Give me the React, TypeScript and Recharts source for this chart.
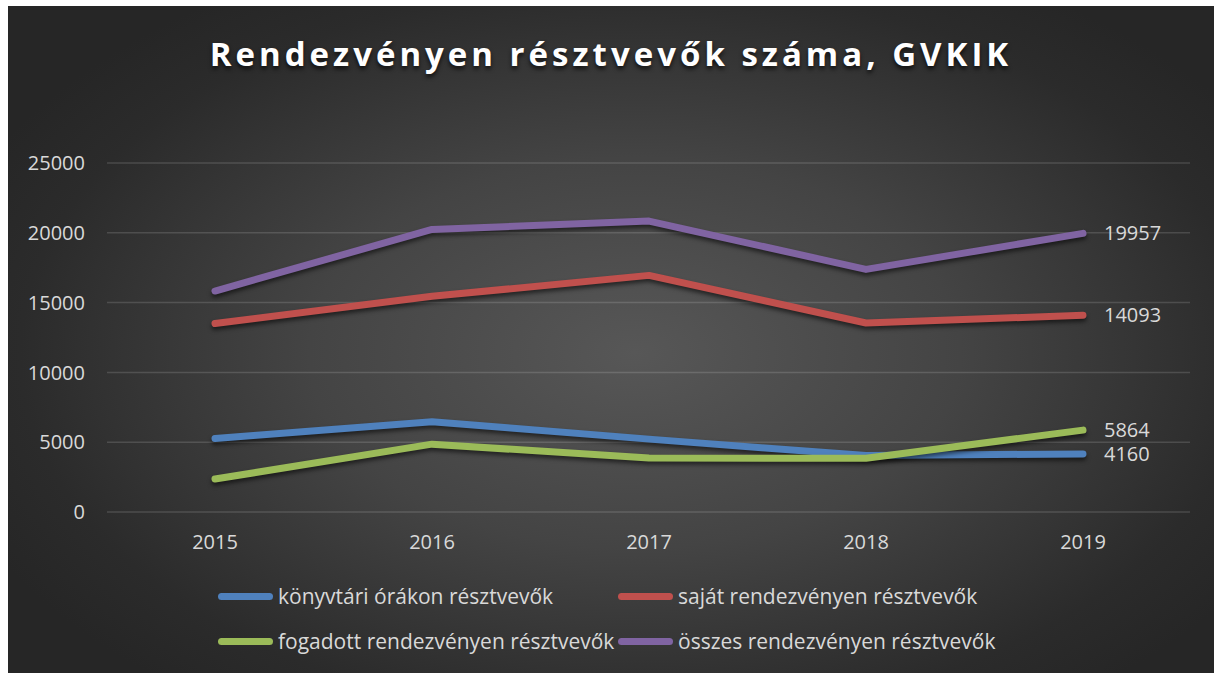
import React from 'react';
import { LineChart, Line, XAxis, YAxis, CartesianGrid } from 'recharts';

// Rendezvényen résztvevők száma, GVKIK
const years = ['2015', '2016', '2017', '2018', '2019'];
const konyvtariOrak = [5270, 6460, 5220, 4040, 4160];
const sajatRendezveny = [13500, 15450, 16950, 13540, 14093];
const fogadottRendezveny = [2360, 4860, 3860, 3850, 5864];
const osszesRendezveny = [15830, 20240, 20840, 17380, 19957];
const yTicks = [0, 5000, 10000, 15000, 20000, 25000];

const seriesNames = [
  'könyvtári órákon résztvevők',
  'saját rendezvényen résztvevők',
  'fogadott rendezvényen résztvevők',
  'összes rendezvényen résztvevők',
];
const seriesKeys = ['konyvtari', 'sajat', 'fogadott', 'osszes'];
const seriesColors = ['#4F81BD', '#C0504D', '#9BBB59', '#8064A2'];

const chartData = years.map((year, i) => ({
  year,
  konyvtari: konyvtariOrak[i],
  sajat: sajatRendezveny[i],
  fogadott: fogadottRendezveny[i],
  osszes: osszesRendezveny[i],
}));

const FONT = '"Open Sans", "DejaVu Sans", sans-serif';
const TEXT = '#d9d9d9';

function endLabel(props: any) {
  const { x, y, index, value } = props;
  if (index !== years.length - 1) return null;
  return (
    <text x={x + 21} y={y} dy={7} fill={TEXT} fontSize={20} fontFamily={FONT}>
      {value}
    </text>
  );
}

function LegendItem({ color, label, left, top }: { color: string; label: string; left: number; top: number }) {
  return (
    <div style={{ position: 'absolute', left, top, display: 'flex', alignItems: 'center', whiteSpace: 'nowrap' }}>
      <span style={{ width: 55, height: 7, borderRadius: 4, background: color, marginRight: 5 }} />
      <span style={{ color: TEXT, fontSize: 21, fontFamily: FONT }}>{label}</span>
    </div>
  );
}

export default function App() {
  return (
    <div
      style={{
        position: 'absolute',
        left: 8,
        top: 6,
        width: 1206,
        height: 667,
        overflow: 'hidden',
        background: 'radial-gradient(ellipse 60% 65% at 52% 52%, #575757 0%, #444 45%, #2b2b2b 85%, #262626 100%)',
      }}
    >
      <style>{`.recharts-line-curve { filter: drop-shadow(0px 3px 2px rgba(0,0,0,0.55)); }`}</style>
      <div
        style={{
          position: 'absolute',
          left: 0,
          right: 0,
          top: 25,
          textAlign: 'center',
          color: '#ffffff',
          fontFamily: FONT,
          fontWeight: 700,
          fontSize: 33,
          letterSpacing: 4,
          textShadow: '0 3px 4px rgba(0,0,0,0.7)',
        }}
      >
        Rendezvényen résztvevők száma, GVKIK
      </div>
      <LineChart
        width={1206}
        height={667}
        data={chartData}
        margin={{ top: 157, right: 24, bottom: 131, left: 0 }}
      >
        <CartesianGrid vertical={false} stroke="rgba(255,255,255,0.14)" strokeWidth={1.5} />
        <XAxis
          dataKey="year"
          axisLine={false}
          tickLine={false}
          height={30}
          tickMargin={23}
          tickSize={0}
          padding={{ left: 108, right: 107 }}
          tick={{ fill: TEXT, fontSize: 20, fontFamily: FONT }}
        />
        <YAxis
          domain={[0, 25000]}
          ticks={yTicks}
          axisLine={false}
          tickLine={false}
          width={99}
          tickSize={0}
          tickMargin={22}
          tick={{ fill: TEXT, fontSize: 20, fontFamily: FONT }}
        />
        {seriesKeys.map((key, i) => (
          <Line
            key={key}
            dataKey={key}
            name={seriesNames[i]}
            stroke={seriesColors[i]}
            strokeWidth={7}
            strokeLinecap="round"
            strokeLinejoin="round"
            dot={false}
            activeDot={false}
            isAnimationActive={false}
            label={endLabel}
          />
        ))}
      </LineChart>
      <LegendItem color={seriesColors[0]} label={seriesNames[0]} left={210} top={576} />
      <LegendItem color={seriesColors[1]} label={seriesNames[1]} left={610} top={576} />
      <LegendItem color={seriesColors[2]} label={seriesNames[2]} left={210} top={621} />
      <LegendItem color={seriesColors[3]} label={seriesNames[3]} left={610} top={621} />
    </div>
  );
}
